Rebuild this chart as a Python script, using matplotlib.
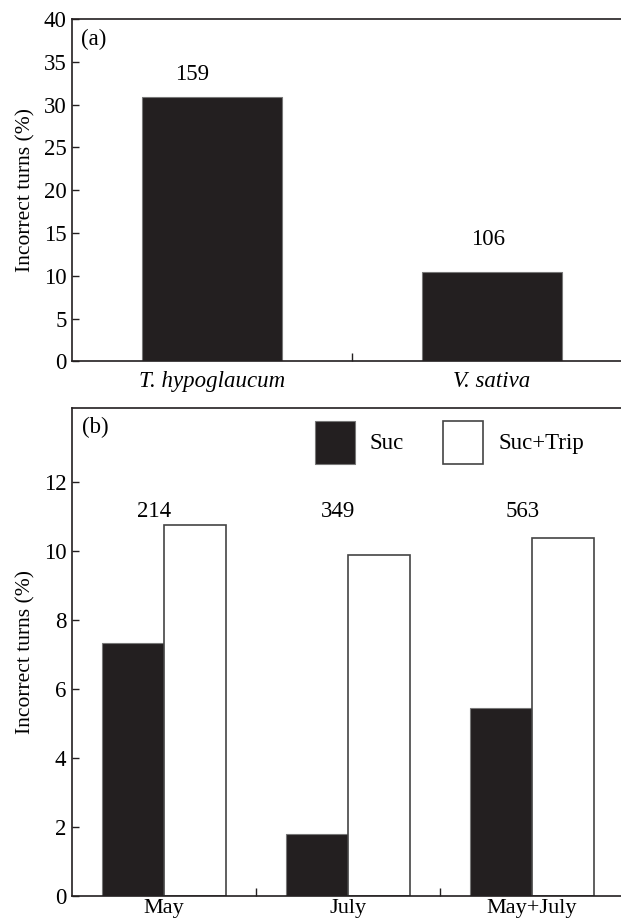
import numpy as np
import matplotlib
matplotlib.use("Agg")
import matplotlib.pyplot as plt

plt.rcParams["font.family"] = ["Liberation Serif", "DejaVu Serif"]
plt.rcParams["font.size"] = 16

# panel (a)
plants = ["T. hypoglaucum", "V. sativa"]
plant_pct = [30.9, 10.47]
plant_n = ["159", "106"]

# panel (b)
months = ["May", "July", "May+July"]
suc_pct = [7.33, 1.80, 5.45]
trip_pct = [10.75, 9.88, 10.38]
month_n = ["214", "349", "563"]

INK = "#231f20"
FS = 16.5

fig = plt.figure(figsize=(6.21, 9.24), dpi=100)
ax1 = fig.add_axes([72/621, 1 - 361.5/924, 560/621, 342.5/924])
ax2 = fig.add_axes([72/621, 1 - 896/924, 552/621, 488/924])


def style_axes(ax, xpad):
    for side in ["left", "bottom", "top", "right"]:
        ax.spines[side].set_color(INK)
        ax.spines[side].set_linewidth(1.2)
    ax.tick_params(axis="y", direction="in", length=5, width=1.0,
                   color=INK, pad=4, labelsize=FS)
    ax.tick_params(axis="x", which="major", length=0, pad=xpad, labelsize=FS)
    ax.tick_params(axis="x", which="minor", direction="in", length=6,
                   width=1.0, color=INK)


# ---- (a) ----
x1 = np.arange(len(plants))
ax1.bar(x1, plant_pct, 0.5, color=INK, edgecolor="#777777", linewidth=0.8)
offs_a = [(-20, 22), (-4, 32)]
for xi, v, n, (dx, dy) in zip(x1, plant_pct, plant_n, offs_a):
    ax1.annotate(n, (xi, v), xytext=(dx * 0.72, dy * 0.72),
                 textcoords="offset points", ha="center", va="center",
                 fontsize=FS)
ax1.set_xlim(-0.5, 1.5)
ax1.set_ylim(0, 40)
ax1.set_yticks(np.arange(0, 41, 5))
ax1.set_xticks(x1)
ax1.set_xticklabels(plants, style="italic")
ax1.set_xticks([0.5], minor=True)
ax1.set_ylabel("Incorrect turns (%)", fontsize=15.5, labelpad=6)
style_axes(ax1, 7)
ax1.text(0.016, 0.94, "(a)", transform=ax1.transAxes, ha="left",
         va="center", fontsize=FS)

# ---- (b) ----
x2 = np.arange(len(months))
w = 0.335
ax2.bar(x2 - w/2, suc_pct, w, color=INK, edgecolor="#777777",
        linewidth=0.8, label="Suc")
ax2.bar(x2 + w/2, trip_pct, w, color="white", edgecolor="#444444",
        linewidth=1.2, label="Suc+Trip")
for xi, n in zip(x2, month_n):
    ax2.annotate(n, (xi, 11.16), xytext=(-7, 0), textcoords="offset points",
                 ha="center", va="center", fontsize=FS)
ax2.set_xlim(-0.5, 2.5)
ax2.set_ylim(0, 14.15)
ax2.set_yticks(np.arange(0, 13, 2))
ax2.set_xticks(x2)
ax2.set_xticklabels(months)
ax2.set_xticks([0.5, 1.5], minor=True)
ax2.set_ylabel("Incorrect turns (%)", fontsize=15.5, labelpad=6)
style_axes(ax2, 2.5)
ax2.tick_params(axis="x", which="major", labelsize=16)
ax2.text(0.018, 0.96, "(b)", transform=ax2.transAxes, ha="left",
         va="center", fontsize=FS)
ax2.legend(loc="center left", bbox_to_anchor=(0.44, 0.93), ncol=2,
           frameon=False, borderpad=0, borderaxespad=0,
           handlelength=1.75, handleheight=2.5, handletextpad=0.65,
           columnspacing=1.7, fontsize=FS)

fig.savefig("out.png", dpi=100)
